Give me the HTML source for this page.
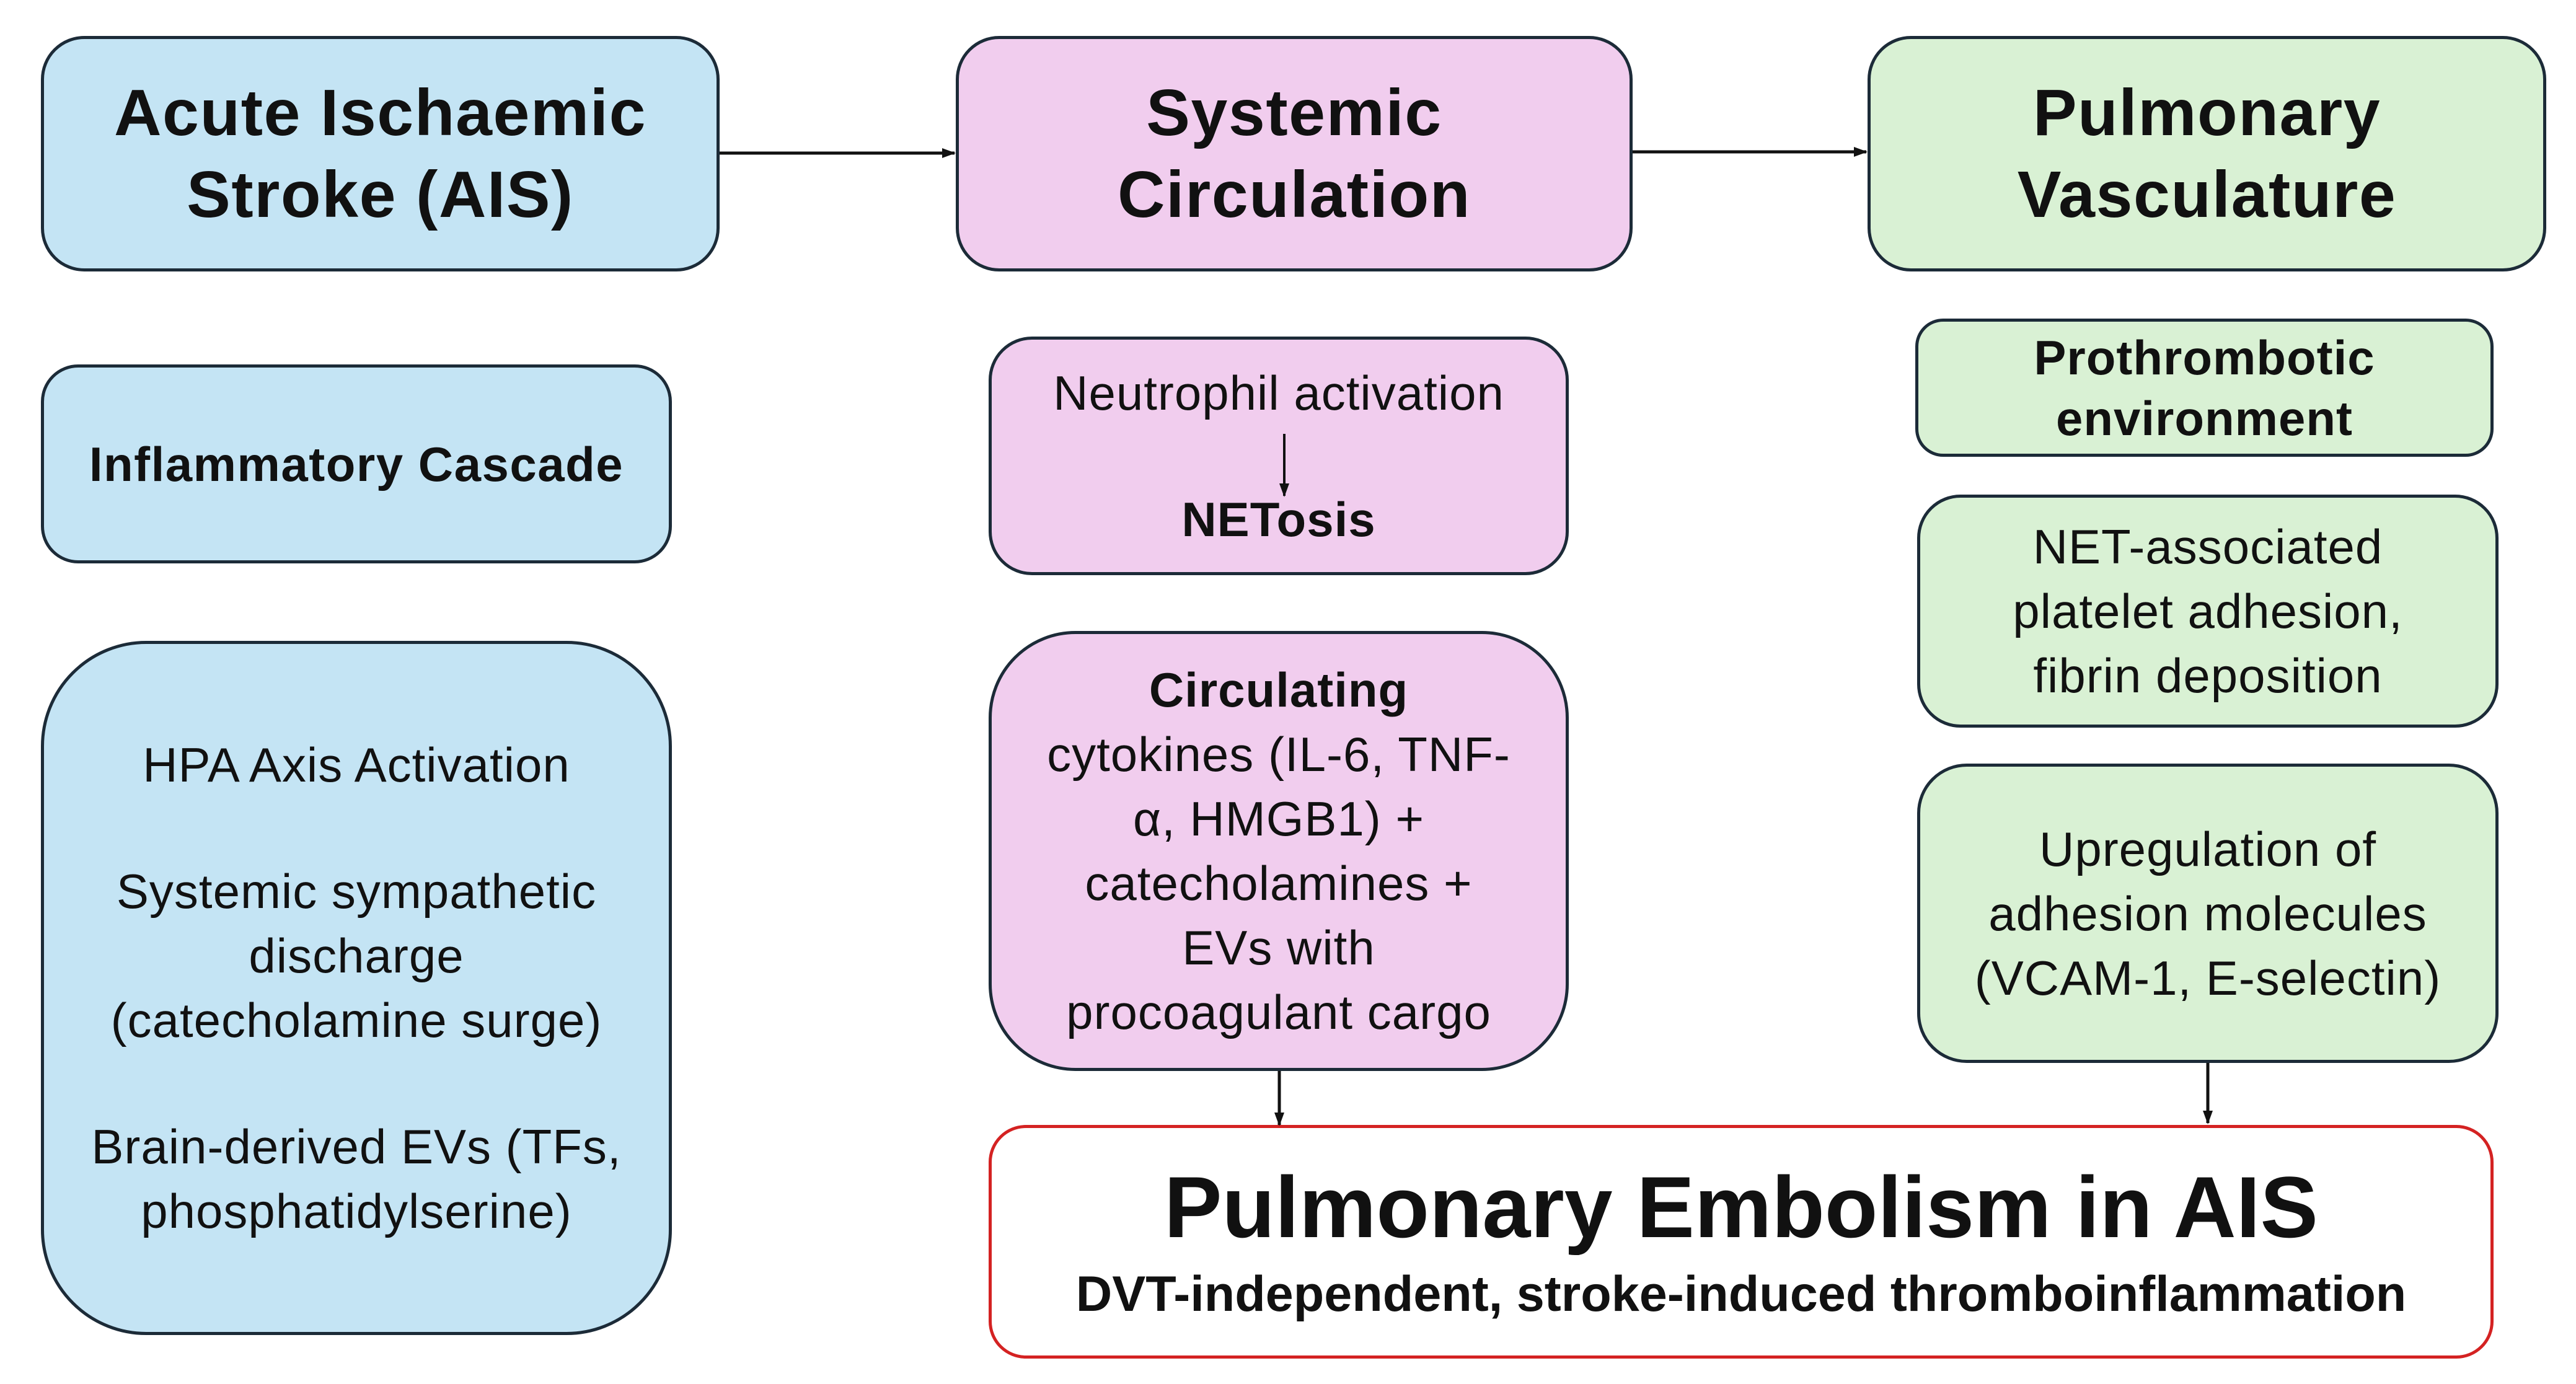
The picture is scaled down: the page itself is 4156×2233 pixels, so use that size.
<!DOCTYPE html>
<html><head><meta charset="utf-8"><style>
html,body{margin:0;padding:0;background:#fff;}
body{width:4156px;height:2233px;position:relative;overflow:hidden;font-family:"Liberation Sans",sans-serif;color:#111;}
.b{position:absolute;box-sizing:border-box;border:5px solid #1c2b38;display:flex;flex-direction:column;align-items:center;justify-content:center;text-align:center;}
.blue{background:#c4e4f4;}
.pink{background:#f1cdee;}
.green{background:#d9f1d4;}
.t{font-weight:bold;font-size:106px;line-height:132px;letter-spacing:1.5px;}
.m{font-size:78px;line-height:104px;letter-spacing:1px;}
.bd{font-weight:bold;}
svg{position:absolute;left:0;top:0;}
</style></head><body>
<div class="b blue t" style="left:66px;top:58px;width:1095px;height:380px;border-radius:70px;">Acute Ischaemic<br>Stroke (AIS)</div>
<div class="b pink t" style="left:1542px;top:58px;width:1092px;height:380px;border-radius:70px;">Systemic<br>Circulation</div>
<div class="b green t" style="left:3013px;top:58px;width:1095px;height:380px;border-radius:70px;">Pulmonary<br>Vasculature</div>

<div class="b blue m bd" style="left:66px;top:588px;width:1018px;height:321px;border-radius:60px;letter-spacing:1.5px;">Inflammatory Cascade</div>
<div class="b blue m" style="left:66px;top:1034px;width:1018px;height:1120px;border-radius:170px;">
<div>HPA Axis Activation</div><div style="height:100px"></div>
<div>Systemic sympathetic<br>discharge<br>(catecholamine surge)</div><div style="height:100px"></div>
<div>Brain-derived EVs (TFs,<br>phosphatidylserine)</div></div>

<div class="b pink m" style="left:1595px;top:543px;width:936px;height:385px;border-radius:70px;">
<div>Neutrophil activation</div><div style="height:100px"></div><div class="bd">NETosis</div></div>
<div class="b pink m" style="left:1595px;top:1018px;width:936px;height:710px;border-radius:140px;">
<div><span class="bd">Circulating</span><br>cytokines (IL-6, TNF-<br>α, HMGB1) +<br>catecholamines +<br>EVs with<br>procoagulant cargo</div></div>

<div class="b green m bd" style="left:3090px;top:514px;width:933px;height:223px;border-radius:45px;line-height:98px;">Prothrombotic<br>environment</div>
<div class="b green m" style="left:3093px;top:798px;width:938px;height:376px;border-radius:70px;">NET-associated<br>platelet adhesion,<br>fibrin deposition</div>
<div class="b green m" style="left:3093px;top:1232px;width:938px;height:483px;border-radius:80px;">Upregulation of<br>adhesion molecules<br>(VCAM-1, E-selectin)</div>

<div class="b" style="left:1595px;top:1815px;width:2428px;height:377px;border-radius:60px;border-color:#d42222;background:#fff;">
<div class="bd" style="font-size:140px;line-height:160px;margin-top:8px;">Pulmonary Embolism in AIS</div>
<div class="bd" style="font-size:81px;line-height:120px;">DVT-independent, stroke-induced thromboinflammation</div></div>

<svg width="4156" height="2233">
<defs><marker id="A" markerWidth="22" markerHeight="22" refX="20" refY="11" orient="auto" markerUnits="userSpaceOnUse"><path d="M0,3 L22,11 L0,19 z" fill="#111"/></marker></defs>
<line x1="1161" y1="247" x2="1540" y2="247" stroke="#111" stroke-width="5" marker-end="url(#A)"/>
<line x1="2634" y1="245" x2="3011" y2="245" stroke="#111" stroke-width="5" marker-end="url(#A)"/>
<line x1="2072" y1="700" x2="2072" y2="800" stroke="#111" stroke-width="4" marker-end="url(#A)"/>
<line x1="2064" y1="1728" x2="2064" y2="1815" stroke="#111" stroke-width="5" marker-end="url(#A)"/>
<line x1="3562" y1="1715" x2="3562" y2="1812" stroke="#111" stroke-width="5" marker-end="url(#A)"/>
</svg>
</body></html>
